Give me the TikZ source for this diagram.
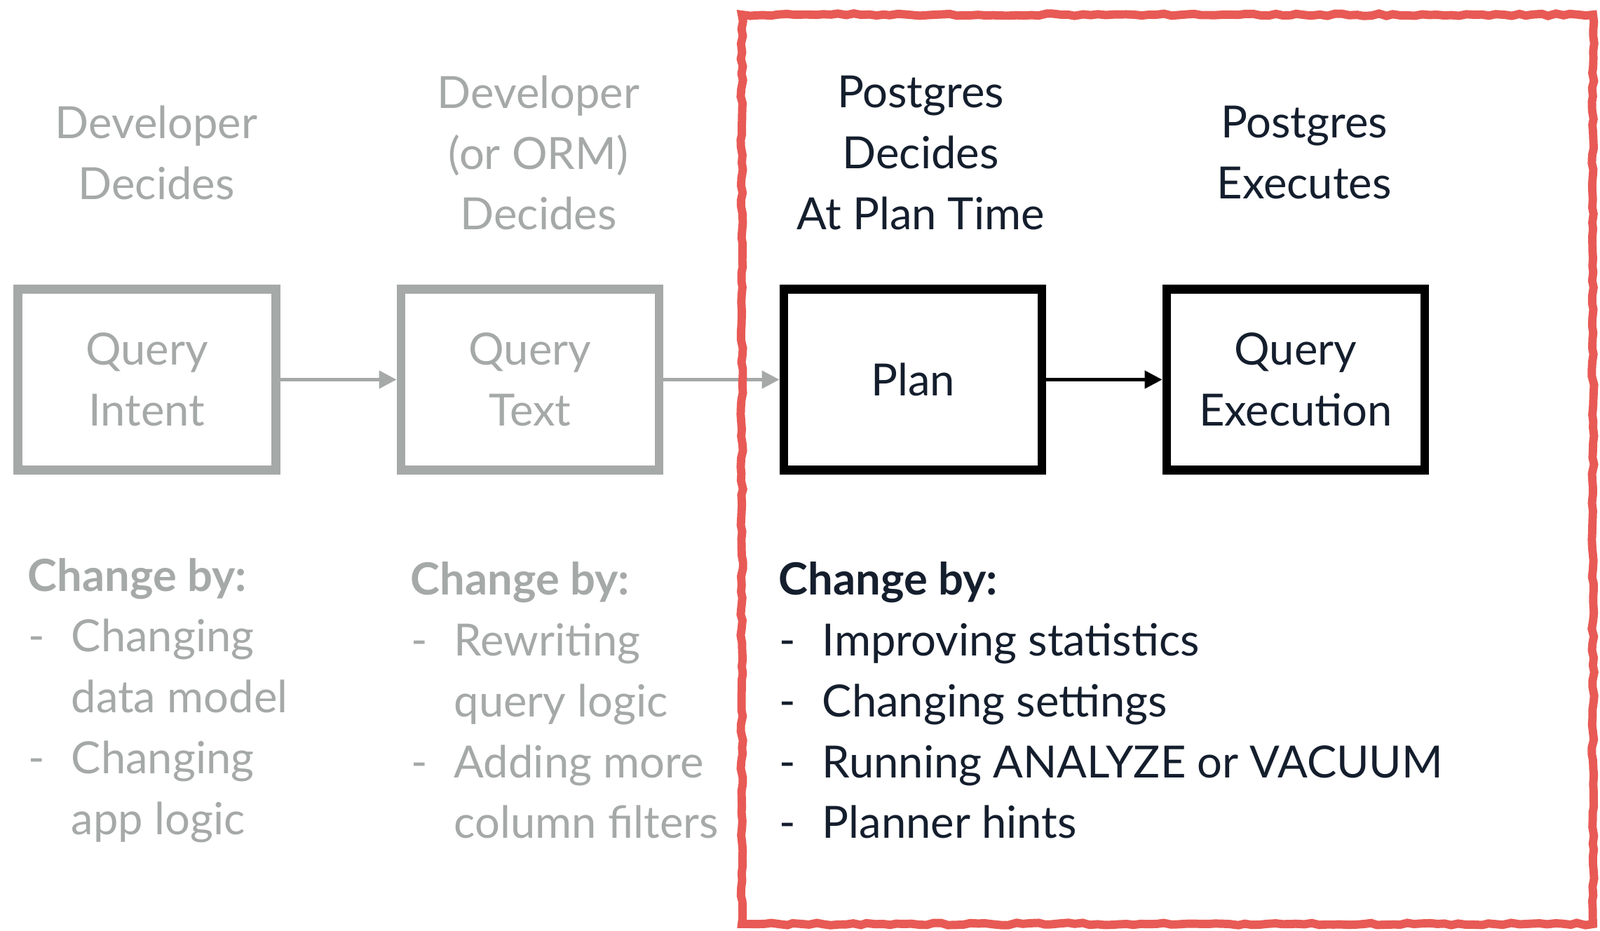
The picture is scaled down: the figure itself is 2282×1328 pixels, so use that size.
\documentclass[tikz,border=0pt]{standalone}
\usepackage{fontspec}
\setmainfont{Lato}
\usetikzlibrary{arrows.meta,decorations.pathmorphing}
\definecolor{paleline}{HTML}{A5A9A8}
\definecolor{darkline}{HTML}{000000}
\definecolor{darktext}{HTML}{141E2D}
\definecolor{redframe}{HTML}{E85A55}
\newcommand{\firstitem}[1]{\hspace*{0.01cm}\makebox[0.61cm][l]{-}#1}
\newcommand{\moreitem}[1]{\hspace*{0.62cm}#1}
\begin{document}
\begin{tikzpicture}
[x=0.01cm,y=-0.01cm,
  textdecorate/.style={align=center,inner sep=0pt,font=\fontsize{18pt}{24.7pt}\selectfont},%
  listdecorate/.style={align=left,anchor=west,inner sep=0pt,font=\fontsize{18pt}{24.7pt}\selectfont},%
  boxdecorate/.style={shape=rectangle,draw,line width=3.6pt,minimum width=3.68cm,minimum height=2.58cm,textdecorate},%
  paledecorate/.style={boxdecorate,draw=paleline,text=paleline},%
  firmdecorate/.style={boxdecorate,draw=darkline,text=darktext},%
  linedecorate/.style={line width=1.4pt,-{Triangle[length=0.25cm,width=0.25cm]}}]
\useasboundingbox (0,0) rectangle (2282,1328);
%% headers
\node (head1) at (223,218) [textdecorate,text=paleline] {Developer\\Decides};
\node (head2) at (768,218) [textdecorate,text=paleline] {Developer\\(or ORM)\\Decides};
\node (head3) at (1313,218) [textdecorate,text=darktext] {Postgres\\Decides\\At Plan Time};
\node (head4) at (1860,218) [textdecorate,text=darktext] {Postgres\\Executes};
%% boxes
\node (intent) at (209.5,541.5) [paledecorate] {Query\\Intent};
\node (qtext) at (756,541.5) [paledecorate] {Query\\Text};
\node (plan) at (1302,541.5) [firmdecorate] {Plan};
\node (exec) at (1848,541.5) [firmdecorate] {Query\\Execution};
%% edges
\path
(intent) edge[linedecorate,paleline] (qtext)
(qtext) edge[linedecorate,paleline] (plan)
(plan) edge[linedecorate,darkline] (exec);
%% change lists
\node (change1) at (39,999) [listdecorate,text=paleline]
  {\textbf{Change by:}\\\firstitem{Changing}\\\moreitem{data model}\\\firstitem{Changing}\\\moreitem{app logic}};
\node (change2) at (585,999) [listdecorate,text=paleline]
  {\textbf{Change by:}\\\firstitem{Rewriting}\\\moreitem{query logic}\\\firstitem{Adding more}\\\moreitem{column filters}};
\node (change3) at (1110,999) [listdecorate,text=darktext]
  {\textbf{Change by:}\\\firstitem{Improving statistics}\\\firstitem{Changing settings}\\\firstitem{Running ANALYZE or VACUUM}\\\firstitem{Planner hints}};
%% red frame round the postgres part
\draw[redframe,line width=3.4pt,decorate,decoration={random steps,segment length=3pt,amplitude=0.5pt}]
(1058,21) rectangle (2272,1318);
\end{tikzpicture}
\end{document}
